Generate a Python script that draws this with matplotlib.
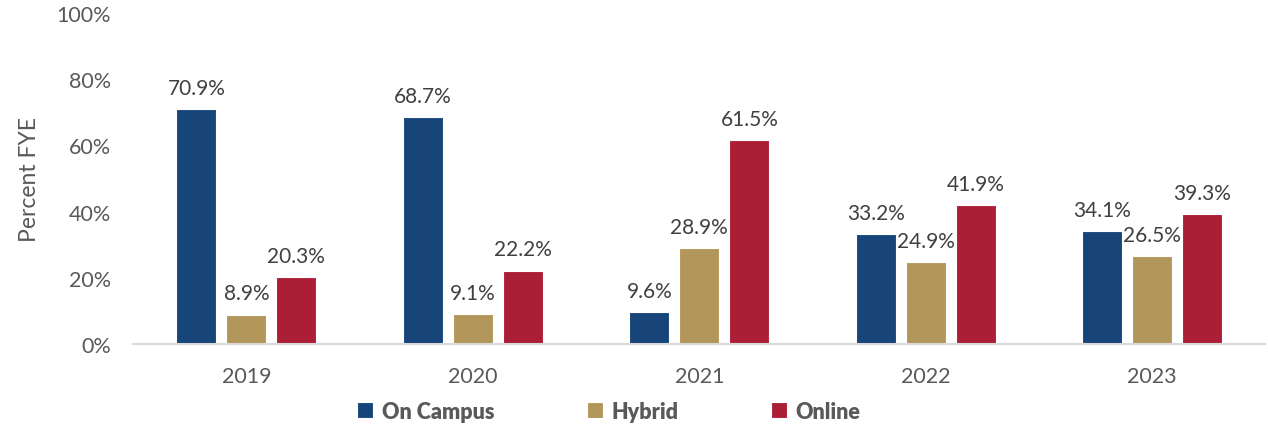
import matplotlib.pyplot as plt
import numpy as np

plt.rcParams['font.family'] = ['Lato', 'DejaVu Sans']

years = ["2019", "2020", "2021", "2022", "2023"]
on_campus = [70.9, 68.7, 9.6, 33.2, 34.1]
hybrid = [8.9, 9.1, 28.9, 24.9, 26.5]
online = [20.3, 22.2, 61.5, 41.9, 39.3]

series = [("On Campus", on_campus, "#17457A"),
          ("Hybrid", hybrid, "#B3975A"),
          ("Online", online, "#AC1E36")]

fig = plt.figure(figsize=(12.68, 4.27), dpi=100)
ax = fig.add_axes([0.105, 0.192, 0.893, 0.775])

x = np.arange(len(years))
width = 0.176
step = 0.221

for i, (name, vals, color) in enumerate(series):
    pos = x + (i - 1) * step
    bars = ax.bar(pos, vals, width, color=color, label=name,
                  edgecolor="white", linewidth=0.8)
    for b, v in zip(bars, vals):
        ax.annotate(f"{v:.1f}%", (b.get_x() + b.get_width() / 2, v),
                    xytext=(0, 8), textcoords="offset points",
                    ha="center", va="bottom", fontsize=15, color="#404040")

ax.set_xlim(-0.5, len(years) - 0.5)
ax.set_ylim(0, 100)
ax.set_yticks(range(0, 101, 20))
ax.set_yticklabels([f"{t}%" for t in range(0, 101, 20)])
ax.set_xticks(x)
ax.set_xticklabels(years)
ax.tick_params(length=0, labelsize=15.5, labelcolor="#595959")
ax.tick_params(axis="y", pad=16)
ax.tick_params(axis="x", pad=16)

for s in ["top", "right", "left"]:
    ax.spines[s].set_visible(False)
ax.spines["bottom"].set_color("#D9D9D9")
ax.spines["bottom"].set_linewidth(1.5)

ax.set_ylabel("Percent FYE", fontsize=16.5, color="#595959", labelpad=12)

leg = fig.legend(loc="lower center", bbox_to_anchor=(0.480, -0.035), ncol=3,
                 frameon=False, handlelength=0.75, handleheight=0.75,
                 handletextpad=0.4, columnspacing=4.3,
                 prop={"weight": "heavy", "size": 15.5})
for t in leg.get_texts():
    t.set_color("#595959")

fig.savefig("out.png", dpi=100)
